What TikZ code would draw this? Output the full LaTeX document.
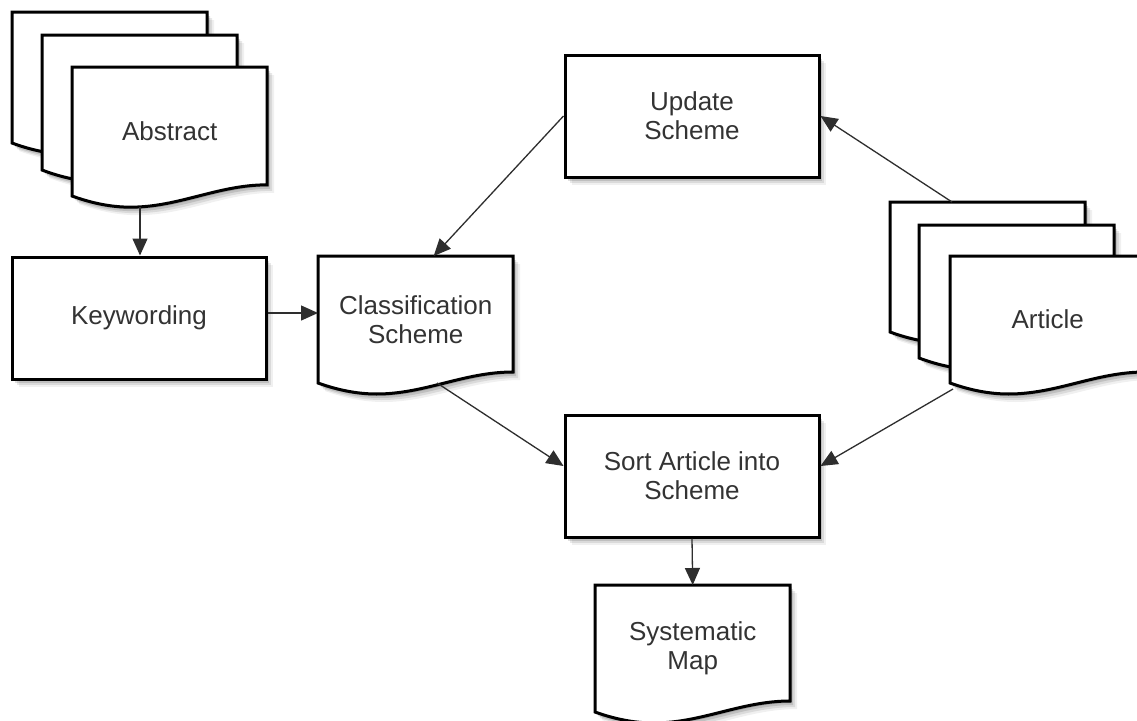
\documentclass[tikz,border=0pt]{standalone}
\usepackage{fontspec}
\setmainfont{Liberation Sans}
\usetikzlibrary{arrows.meta,shadows}
\definecolor{txt}{HTML}{333333}
\definecolor{conncol}{HTML}{2E2E2E}
\newcommand{\docshape}[3]{%
  \path[shapeline,softshadow] (#1,#2) -- ({#1+195},#2) -- ({#1+195},{#2+#3*0.9134})
    .. controls ({#1+146},{#2+#3*0.9134}) and ({#1+107},{#2+#3*1.0866}) .. ({#1+58.5},{#2+#3*1.0866})
    .. controls ({#1+39},{#2+#3*1.0866}) and ({#1+19.5},{#2+#3*1.0551}) .. (#1,{#2+#3}) -- cycle;}
\begin{document}
\begin{tikzpicture}[x=1pt,y=-1pt,
  softshadow/.style={
    general shadow={fill=black,fill opacity=0.06,shadow xshift=7pt,shadow yshift=-8pt},
    general shadow={fill=black,fill opacity=0.09,shadow xshift=5pt,shadow yshift=-6pt},
    general shadow={fill=black,fill opacity=0.12,shadow xshift=3pt,shadow yshift=-4pt},
    general shadow={fill=black,fill opacity=0.15,shadow xshift=1.5pt,shadow yshift=-2pt}},
  shapeline/.style={draw=black,line width=3pt,fill=white,line join=miter},
  label/.style={align=center,text=txt,font=\fontsize{26}{29}\selectfont},
  procbox/.style={shapeline,softshadow,label,minimum width=254pt,minimum height=122pt,inner sep=0pt},
  docnode/.style={label,minimum width=195pt,inner sep=0pt,anchor=north west},
  conn/.style={draw=conncol,line width=1.3pt,-{Triangle[length=17pt,width=15pt]}}]
\clip (0,0) rectangle (1137,720);
\fill[white] (0,0) rectangle (1137,720);
% Abstract stack
\docshape{12}{12}{131}
\docshape{42}{35}{135}
\docshape{72}{67}{129}
\node[docnode,minimum height=129pt] (abs) at (72,67) {Abstract};
% Article stack
\docshape{890}{202}{130}
\docshape{919}{225}{133}
\docshape{950}{256}{127}
\node[docnode,minimum height=127pt] (art) at (950,256) {Article};
% Classification scheme
\docshape{318}{256}{127}
\node[docnode,minimum height=127pt] (cls) at (318,256) {Classification\\Scheme};
% Systematic map
\docshape{595}{585}{127}
\node[docnode,minimum height=127pt] (map) at (595,585) {Systematic\\Map};
% Process boxes
\node[procbox] (kw) at (139,318) {Keywording};
\node[procbox] (upd) at (692,116) {Update\\Scheme};
\node[procbox] (sort) at (692,476) {Sort Article into\\Scheme};
% Connectors
\coordinate (absW) at (140,207);
\coordinate (artTop) at (952,202);
\coordinate (artBot) at (953,389);
\coordinate (clsBot) at (437,383);
\draw[conn] (absW) -- (absW |- kw.north);
\draw[conn] ([yshift=5pt]kw.east) -- ([yshift=5pt]kw.east -| cls.west);
\draw[conn] (upd.west) -- ([xshift=18pt]cls.north);
\draw[conn] (artTop) -- (upd.east);
\draw[conn] (artBot) -- ([yshift=10pt]sort.east);
\draw[conn] (clsBot) -- ([yshift=10pt]sort.west);
\draw[conn] (sort.south) -- (map.north);
\end{tikzpicture}
\end{document}
